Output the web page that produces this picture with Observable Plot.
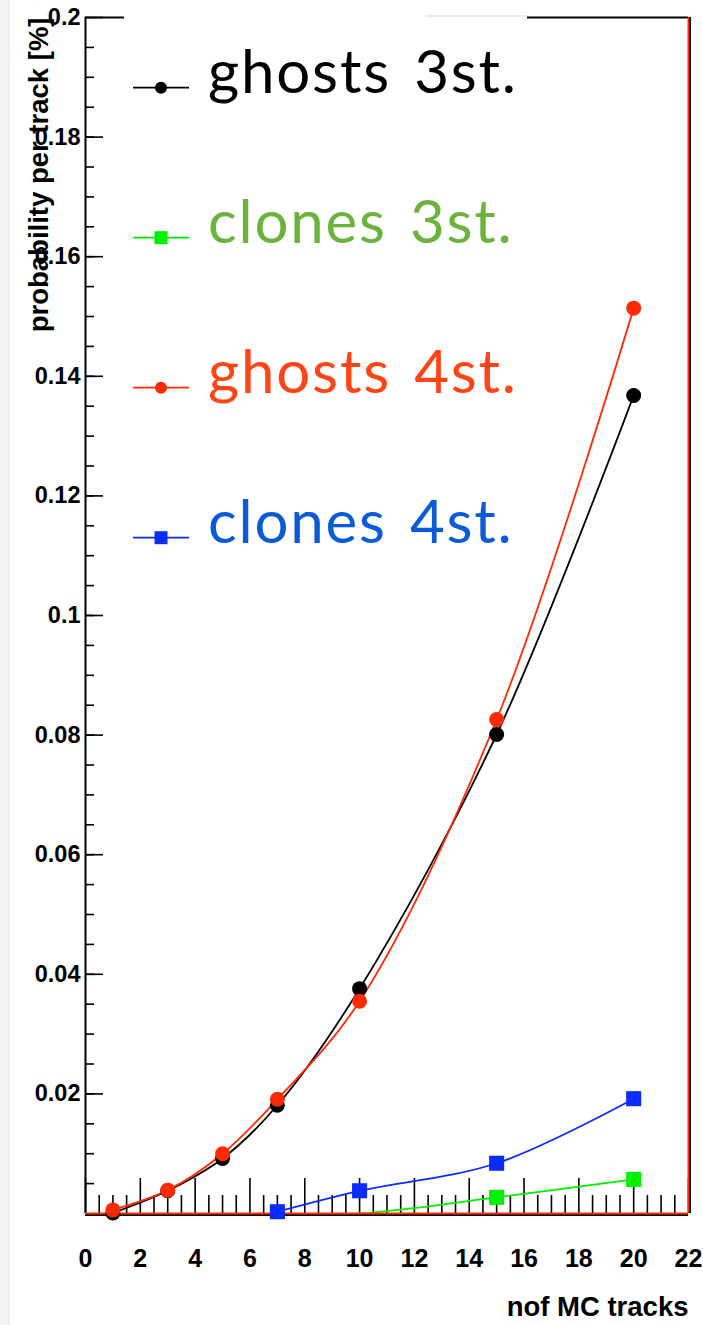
<!DOCTYPE html>
<html>
<head>
<meta charset="utf-8">
<script src="https://cdn.jsdelivr.net/npm/d3@7"></script>
<script src="https://cdn.jsdelivr.net/npm/@observablehq/plot@0.6"></script>
<style>
  html, body { margin: 0; padding: 0; background: #fff; }
  #wrap { position: relative; width: 703px; height: 1325px; overflow: hidden; background: #fff; }
  #strip { position: absolute; left: 0; top: 0; width: 10px; height: 1325px; background: #f2f2f2; }
  #chart { position: absolute; left: 0; top: 0; }
  #legend { position: absolute; left: 0; top: 0; }
</style>
</head>
<body>
<div id="wrap">
  <div id="strip"></div>
  <div id="chart"></div>
  <svg id="legend" width="703" height="600"></svg>
</div>
<script>
// Number of MC tracks per event
const tracksGhosts = [1, 3, 5, 7, 10, 15, 20];
const tracksClones = [7, 10, 15, 20];

// Probability per track [%]
const ghosts3st = [0.0001, 0.0038, 0.0092, 0.0181, 0.0376, 0.0801, 0.1368];
const ghosts4st = [0.0006, 0.0039, 0.0100, 0.0191, 0.0355, 0.0826, 0.1514];
const clones3st = [0.0, 0.0, 0.0027, 0.0057];
const clones4st = [0.0003, 0.0038, 0.0084, 0.0192];

const seriesNames = ["ghosts 3st.", "clones 3st.", "ghosts 4st.", "clones 4st."];
const lineColors  = ["#000000", "#00f000", "#ff2a00", "#0a2cff"];
const labelColors = ["#000000", "#6cb33e", "#ff4416", "#0b5bd8"];
const seriesSymbols = ["circle", "square", "circle", "square"];

// Axis ticks
const xMajor = [0, 2, 4, 6, 8, 10, 12, 14, 16, 18, 20, 22];
const xMinor = d3.range(0, 44).map(i => i / 2).filter(v => v % 2 !== 0);
const yMajor = [0.02, 0.04, 0.06, 0.08, 0.1, 0.12, 0.14, 0.16, 0.18, 0.2];
const yMinor = d3.range(1, 40).map(i => +(i * 0.005).toFixed(3));

const rows = [
  ...tracksGhosts.map((x, i) => ({series: seriesNames[0], x, y: ghosts3st[i]})),
  ...tracksClones.map((x, i) => ({series: seriesNames[1], x, y: clones3st[i]})),
  ...tracksGhosts.map((x, i) => ({series: seriesNames[2], x, y: ghosts4st[i]})),
  ...tracksClones.map((x, i) => ({series: seriesNames[3], x, y: clones4st[i]}))
];
// markers sitting exactly on the frame minimum are not drawn
const visible = rows.filter(d => d.y > 0);
const circles = visible.filter(d => seriesSymbols[seriesNames.indexOf(d.series)] === "circle");
const squares = visible.filter(d => seriesSymbols[seriesNames.indexOf(d.series)] === "square");

const axisFont = {fontFamily: "'Liberation Sans', Arial, sans-serif", fontWeight: "bold"};

const chart = Plot.plot({
  width: 703,
  height: 1325,
  marginLeft: 85,
  marginRight: 15,
  marginTop: 17,
  marginBottom: 112,
  style: {background: "transparent", color: "#000", ...axisFont},
  x: {domain: [0, 22]},
  y: {domain: [0, 0.2]},
  color: {domain: seriesNames, range: lineColors},
  marks: [
    // ticks drawn inward from the frame
    Plot.axisX({ticks: xMinor, anchor: "bottom", tickSize: -18, strokeWidth: 1.6, fill: "none", label: null}),
    Plot.axisX({ticks: xMajor, anchor: "bottom", tickSize: -35, strokeWidth: 1.6, fill: "none", label: null}),
    Plot.axisY({ticks: yMinor, anchor: "left", tickSize: -9, strokeWidth: 1.6, fill: "none", label: null}),
    Plot.axisY({ticks: yMajor, anchor: "left", tickSize: -18, strokeWidth: 1.6, fill: "none", label: null}),
    // tick labels
    Plot.axisX({ticks: xMajor, anchor: "bottom", tickSize: 0, tickPadding: 36, fontSize: 25, fontWeight: "bold", tickFormat: d => String(d), label: null}),
    Plot.axisY({ticks: yMajor, anchor: "left", tickSize: 0, tickPadding: 5, fontSize: 23.5, fontWeight: "bold", tickFormat: d => String(d), label: null}),
    // data curves
    Plot.line(rows, {x: "x", y: "y", z: "series", stroke: "series", curve: "catmull-rom", strokeWidth: 1.8}),
    // frame
    Plot.ruleX([0], {stroke: "#000", strokeWidth: 2}),
    Plot.ruleY([0.2], {stroke: "#000", strokeWidth: 2}),
    Plot.ruleX([22], {stroke: "#000", strokeWidth: 3, dx: 1}),
    Plot.ruleX([22], {stroke: "#ff2a00", strokeWidth: 2}),
    Plot.ruleY([0], {stroke: "#000", strokeWidth: 3, dy: 1}),
    Plot.ruleY([0], {stroke: "#ff2a00", strokeWidth: 2}),
    // markers
    Plot.dot(squares, {x: "x", y: "y", fill: "series", symbol: "square", r: 8.5}),
    Plot.dot(circles, {x: "x", y: "y", fill: "series", symbol: "circle", r: 7.5}),
    // axis titles
    Plot.text(["probability per track [%]"], {frameAnchor: "top-left", rotate: -90, textAnchor: "end", lineAnchor: "bottom", dx: -38, fontSize: 27.5, fontWeight: "bold"}),
    Plot.text(["nof MC tracks"], {frameAnchor: "bottom-right", textAnchor: "end", lineAnchor: "middle", dy: 94, fontSize: 27.5, fontWeight: "bold"})
  ]
});
document.getElementById("chart").appendChild(chart);

// Legend box in the upper left of the frame
const legend = d3.select("#legend");
legend.append("rect").attr("x", 124).attr("y", 10).attr("width", 403).attr("height", 580).attr("fill", "#fff");
legend.append("line").attr("x1", 426).attr("x2", 527).attr("y1", 16).attr("y2", 16).attr("stroke", "#d8d8d8").attr("stroke-width", 1);
const sym = {circle: d3.symbolCircle, square: d3.symbolSquare};
seriesNames.forEach((name, i) => {
  const cy = 87.7 + i * 150;
  const g = legend.append("g").attr("transform", `translate(0,${cy})`);
  g.append("line").attr("x1", 133).attr("x2", 189).attr("y1", 0).attr("y2", 0)
    .attr("stroke", lineColors[i]).attr("stroke-width", 1.8);
  const size = seriesSymbols[i] === "circle" ? Math.PI * 6 * 6 : 13 * 13;
  g.append("path").attr("transform", "translate(161,0)")
    .attr("d", d3.symbol(sym[seriesSymbols[i]], size)())
    .attr("fill", lineColors[i]);
  g.append("text").attr("x", 208).attr("y", 5)
    .attr("fill", labelColors[i])
    .style("font-family", "Lato, 'Open Sans', sans-serif")
    .style("font-size", "60px")
    .style("letter-spacing", "1.8px")
    .style("word-spacing", "6px")
    .text(name);
});
</script>
</body>
</html>
